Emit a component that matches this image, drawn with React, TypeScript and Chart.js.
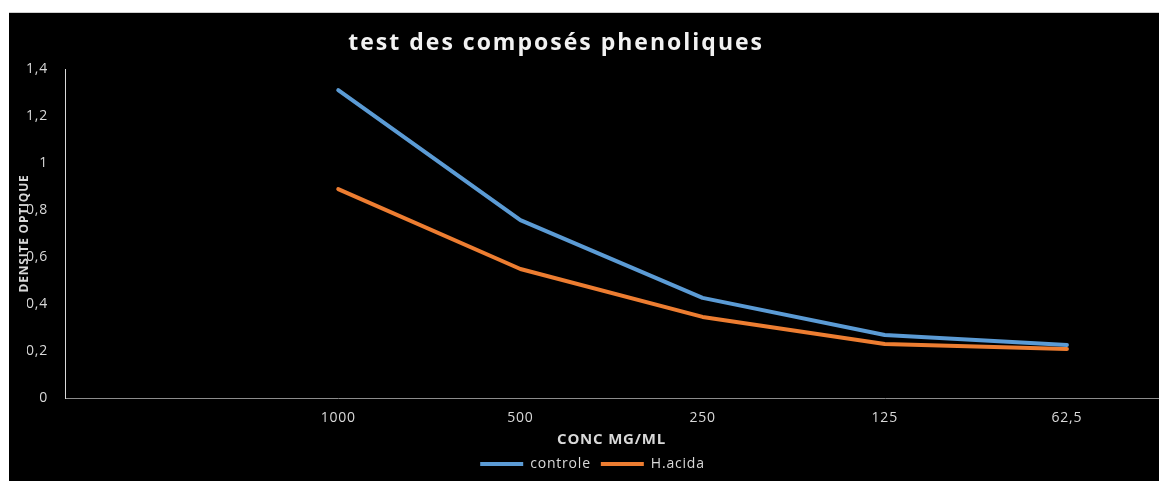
import React, { useEffect, useRef } from 'react';
import { Chart, registerables } from 'chart.js';

Chart.register(...registerables);

const categories = ['', '1000', '500', '250', '125', '62,5'];
const controle = [null, 1.31, 0.757, 0.426, 0.268, 0.226];
const hAcida = [null, 0.889, 0.549, 0.345, 0.23, 0.209];
const yTicks = [0, 0.2, 0.4, 0.6, 0.8, 1, 1.2, 1.4];
const chartTitle = 'test des composés phenoliques';
const xTitle = 'CONC MG/ML';
const yTitle = 'DENSITE OPTIQUE';

const FONT = '"Open Sans", "DejaVu Sans", sans-serif';
const TEXT = '#d9d9d9';

const textPlugin = {
  id: 'textPlugin',
  beforeUpdate(chart: any) {
    chart.ctx.letterSpacing = '0.8px';
  },
  beforeDraw(chart: any) {
    chart.ctx.letterSpacing = '0.8px';
  },
  afterDraw(chart: any) {
    const ctx = chart.ctx;
    ctx.save();
    ctx.font = `bold 23px ${FONT}`;
    ctx.letterSpacing = '2px';
    ctx.fillStyle = '#f2f2f2';
    ctx.textAlign = 'center';
    ctx.textBaseline = 'middle';
    ctx.fillText(chartTitle, chart.width * 0.4725, 30);
    ctx.restore();
  },
};

export default function App() {
  const ref = useRef<HTMLCanvasElement | null>(null);

  useEffect(() => {
    if (!ref.current) return;
    const chart = new Chart(ref.current, {
      type: 'line',
      data: {
        labels: categories,
        datasets: [
          {
            label: 'controle',
            data: controle,
            borderColor: '#5b9bd5',
            backgroundColor: '#5b9bd5',
            borderWidth: 4,
            pointRadius: 0,
            borderCapStyle: 'round',
            borderJoinStyle: 'round',
            tension: 0,
          },
          {
            label: 'H.acida',
            data: hAcida,
            borderColor: '#ed7d31',
            backgroundColor: '#ed7d31',
            borderWidth: 4,
            pointRadius: 0,
            borderCapStyle: 'round',
            borderJoinStyle: 'round',
            tension: 0,
          },
        ],
      },
      options: {
        responsive: false,
        animation: false,
        events: [],
        layout: { padding: { left: 18, top: 56, right: 9, bottom: 0 } },
        scales: {
          x: {
            type: 'category',
            offset: true,
            grid: { display: false, drawTicks: false },
            border: { display: true, color: '#8c8c8c', width: 1 },
            ticks: { color: TEXT, font: { family: FONT, size: 14 }, padding: 12, maxRotation: 0, autoSkip: false },
            title: {
              display: true,
              text: xTitle,
              color: TEXT,
              font: { family: FONT, size: 15, weight: 'bold' },
              padding: { top: 0, bottom: -2 },
            },
            afterFit: (s: any) => {
              s.height = 49;
            },
          },
          y: {
            min: 0,
            max: 1.4,
            grid: { display: false, drawTicks: false },
            border: { display: true, color: '#d9d9d9', width: 1 },
            afterBuildTicks: (s: any) => {
              s.ticks = yTicks.map((v) => ({ value: v }));
            },
            ticks: {
              color: TEXT,
              font: { family: FONT, size: 14 },
              padding: 17,
              callback: (v: any) => String(+Number(v).toFixed(1)).replace('.', ','),
            },
            title: {
              display: true,
              text: yTitle,
              color: TEXT,
              font: { family: FONT, size: 12, weight: 'bold' },
              padding: { top: -10, bottom: 0 },
            },
            afterFit: (s: any) => {
              s.width = 38;
            },
          },
        },
        plugins: {
          title: { display: false },
          tooltip: { enabled: false },
          legend: {
            display: true,
            position: 'bottom',
            labels: {
              color: TEXT,
              font: { family: FONT, size: 14 },
              usePointStyle: true,
              pointStyle: 'line',
              pointStyleWidth: 43,
              padding: 10,
            },
          },
        },
      },
      plugins: [textPlugin],
    } as any);
    return () => chart.destroy();
  }, []);

  return (
    <div style={{ marginTop: 4, marginLeft: 1, borderTop: '1px solid #cfcfcf', background: '#000', width: 1158, height: 468 }}>
      <canvas ref={ref} width={1158} height={468} style={{ display: 'block' }} />
    </div>
  );
}
